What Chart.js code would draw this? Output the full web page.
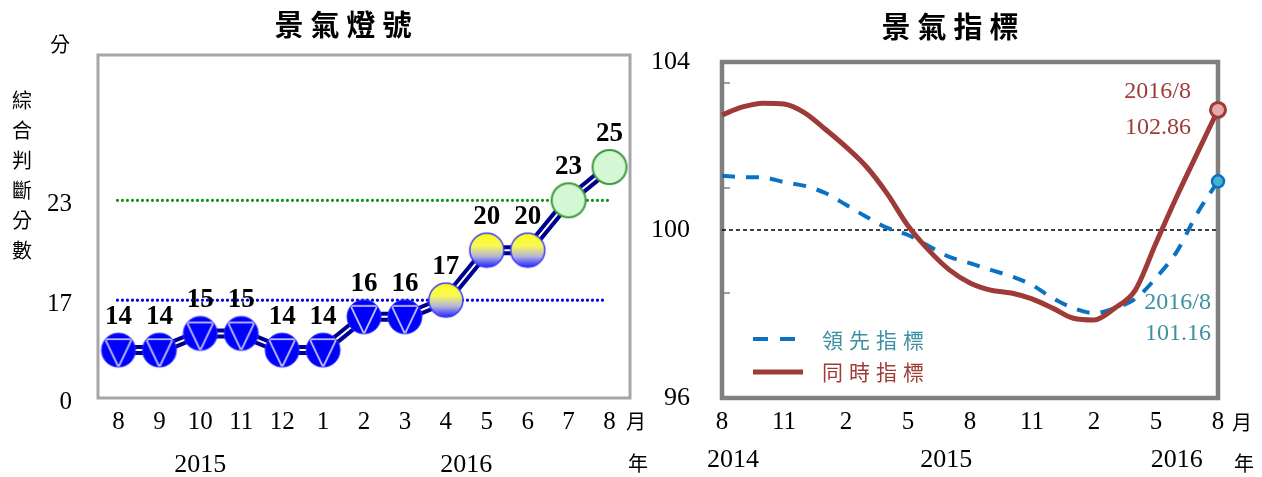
<!DOCTYPE html>
<html><head><meta charset="utf-8">
<script src="https://cdn.jsdelivr.net/npm/chart.js@4.4.0/dist/chart.umd.min.js"></script>
<style>
html,body{margin:0;padding:0;background:#fff;width:1262px;height:477px;overflow:hidden}
#c1{position:absolute;left:0;top:0}
#c2{position:absolute;left:640px;top:0}
</style></head><body>
<canvas id="c1" width="662" height="477"></canvas>
<canvas id="c2" width="622" height="477"></canvas>
<script>
// ---------- Left chart data: 景氣燈號 ----------
const signalMonths = ['8','9','10','11','12','1','2','3','4','5','6','7','8'];
const signalScores = [14,14,15,15,14,14,16,16,17,20,20,23,25];
const signalYears = ['2015','2016'];
const scoreTickValues = [11.12, 17, 23];
const scoreTickLabels = ['0','17','23'];
const scoreAxisMin = 11.12, scoreAxisMax = 31.73;
const blueThreshold = 17, greenThreshold = 23;

// ---------- Right chart data: 景氣指標 ----------
const indexMonths = ['2014/8','2014/9','2014/10','2014/11','2014/12',
  '2015/1','2015/2','2015/3','2015/4','2015/5','2015/6','2015/7','2015/8','2015/9','2015/10','2015/11','2015/12',
  '2016/1','2016/2','2016/3','2016/4','2016/5','2016/6','2016/7','2016/8'];
const leadingIndex = [101.29,101.26,101.25,101.14,101.05,100.88,100.60,100.31,100.05,99.88,99.62,99.36,99.21,
  99.05,98.90,98.69,98.38,98.14,98.02,98.14,98.36,98.86,99.48,100.40,101.16];
const coincidentIndex = [102.74,102.93,103.02,103.00,102.79,102.40,101.98,101.50,100.86,100.10,99.52,99.05,98.74,
  98.57,98.50,98.36,98.14,97.90,97.86,98.14,98.57,99.69,100.79,101.83,102.86];
const indexYears = ['2014','2015','2016'];
const indexTickValues = [96,100,104];
const indexMinorTicks = [98.5,101,103.5];
const indexBaseline = 100;
const seriesNames = ['領先指標','同時指標'];

const CJK = '"Noto Sans CJK TC","Noto Sans CJK SC",sans-serif';
const SERIF = '"Liberation Serif","DejaVu Serif",serif';

function spacedText(ctx, str, x, y, spacing, align){
  const chars = [...str];
  const ws = chars.map(ch=>ctx.measureText(ch).width);
  const total = ws.reduce((a,b)=>a+b,0) + spacing*(chars.length-1);
  let xx = align==='left' ? x : x - total/2;
  ctx.textAlign='left';
  chars.forEach((ch,i)=>{ctx.fillText(ch, xx, y); xx += ws[i]+spacing;});
}

// ---------- marker images ----------
function makeMarker(kind){
  const r=17, s=40, c=document.createElement('canvas'); c.width=s; c.height=s;
  const g=c.getContext('2d'); const cx=s/2, cy=s/2;
  g.beginPath(); g.arc(cx,cy,r,0,2*Math.PI);
  if(kind==='blue'){
    g.fillStyle='#0000FF'; g.fill();
    g.strokeStyle='#3030FF'; g.lineWidth=1; g.stroke();
    g.save(); g.beginPath(); g.arc(cx,cy,r-0.5,0,2*Math.PI); g.clip();
    const ty=cy-0.64*r, hw=0.78*r;
    g.beginPath(); g.moveTo(cx-hw,ty); g.lineTo(cx+hw,ty); g.lineTo(cx,cy+r); g.closePath();
    g.strokeStyle='#C4C4F2'; g.lineWidth=1.8; g.stroke(); g.restore();
  } else if(kind==='yb'){
    const gr=g.createLinearGradient(0,cy-r,0,cy+r);
    gr.addColorStop(0,'#FFFF10'); gr.addColorStop(0.38,'#F8F85A'); gr.addColorStop(0.68,'#B4B4DC'); gr.addColorStop(1,'#2424FF');
    g.fillStyle=gr; g.fill(); g.strokeStyle='#3A3AFF'; g.lineWidth=1.5; g.stroke();
  } else {
    g.fillStyle='#D4F7D4'; g.fill(); g.strokeStyle='#3C9A3C'; g.lineWidth=2; g.stroke();
  }
  return c;
}
const markers = {blue:makeMarker('blue'), yb:makeMarker('yb'), green:makeMarker('green')};
function signalKind(v){ return v>=greenThreshold ? 'green' : (v>=blueThreshold ? 'yb' : 'blue'); }

function drawDotted(ctx,x0,x1,y,color){
  ctx.save(); ctx.beginPath(); ctx.setLineDash([0,5]); ctx.lineCap='round';
  ctx.lineWidth=3.2; ctx.strokeStyle=color; ctx.moveTo(x0,y); ctx.lineTo(x1,y); ctx.stroke(); ctx.restore();
}

const leftDecor = {
  id:'leftDecor',
  beforeDatasetsDraw(chart){
    const {ctx, chartArea:a, scales:{x,y}} = chart;
    ctx.save();
    ctx.strokeStyle='#A6A6A6'; ctx.lineWidth=3;
    ctx.strokeRect(a.left, a.top, a.right-a.left, a.bottom-a.top);
    const x0=x.getPixelForValue(0)-1, x1=x.getPixelForValue(signalMonths.length-1);
    drawDotted(ctx,x0,x1,y.getPixelForValue(greenThreshold),'#109010');
    drawDotted(ctx,x0,x1-3,y.getPixelForValue(blueThreshold),'#0000E6');
    ctx.restore();
  },
  afterDatasetsDraw(chart){
    const {ctx} = chart; const meta = chart.getDatasetMeta(0);
    ctx.save(); ctx.fillStyle='#000'; ctx.font='bold 27px '+SERIF; ctx.textAlign='center'; ctx.textBaseline='middle';
    meta.data.forEach((el,i)=>{ ctx.fillText(String(signalScores[i]), el.x, el.y-33); });
    ctx.restore();
  },
  afterDraw(chart){
    const {ctx, scales:{x}} = chart;
    ctx.save(); ctx.fillStyle='#000'; ctx.textBaseline='middle';
    ctx.font='bold 29px '+CJK; spacedText(ctx,'景氣燈號',343,25,7);
    ctx.font='20px '+CJK;
    ctx.textAlign='center'; ctx.fillText('分',60,44);
    [...'綜合判斷分數'].forEach((ch,i)=>{ ctx.textAlign='center'; ctx.fillText(ch,22,100+i*30); });
    ctx.textAlign='center'; ctx.fillText('月',636,421); ctx.fillText('年',638,463);
    ctx.font='26px '+SERIF; ctx.textAlign='center';
    ctx.fillText(signalYears[0], x.getPixelForValue(2), 465);
    ctx.fillText(signalYears[1], (x.getPixelForValue(8)+x.getPixelForValue(9))/2, 465);
    ctx.restore();
  }
};

new Chart(document.getElementById('c1'), {
  type:'line',
  data:{labels:signalMonths, datasets:[
    {data:signalScores, showLine:false, pointStyle:(c)=>markers[signalKind(c.raw)], pointRadius:17, pointHoverRadius:17, clip:false, order:0},
    {data:signalScores, borderColor:'#FFFFFF', borderWidth:2, pointRadius:0, tension:0, order:1, borderJoinStyle:'round'},
    {data:signalScores, borderColor:'#000090', borderWidth:10, pointRadius:0, tension:0, order:2, borderJoinStyle:'round'}
  ]},
  options:{
    responsive:false, animation:false, devicePixelRatio:1,
    layout:{padding:{left:0,right:32,top:55,bottom:0}},
    plugins:{legend:{display:false}, tooltip:{enabled:false}, title:{display:false}},
    scales:{
      x:{offset:true, grid:{display:false,drawTicks:false}, border:{display:false},
         ticks:{font:{family:SERIF,size:25}, color:'#000', padding:9, maxRotation:0, autoSkip:false},
         afterFit:(s)=>{s.height=79;}},
      y:{min:scoreAxisMin, max:scoreAxisMax, grid:{display:false,drawTicks:false}, border:{display:false},
         afterBuildTicks:(s)=>{s.ticks=scoreTickValues.map(v=>({value:v}));},
         ticks:{font:{family:SERIF,size:25}, color:'#000', padding:26, labelOffset:4,
                callback:(v,i)=>scoreTickLabels[i]},
         afterFit:(s)=>{s.width=98;}}
    }
  },
  plugins:[leftDecor]
});

// ---------- Right chart ----------
const RED='#9E3B38', BLUE='#0A72C4', TEAL='#3E8FA2';
const rightDecor = {
  id:'rightDecor',
  beforeDatasetsDraw(chart){
    const {ctx, chartArea:a, scales:{y}} = chart;
    ctx.save();
    ctx.strokeStyle='#7F7F7F'; ctx.lineWidth=4.5;
    ctx.strokeRect(a.left, a.top, a.right-a.left, a.bottom-a.top);
    ctx.lineWidth=1.5;
    indexMinorTicks.forEach(v=>{ const yy=y.getPixelForValue(v); ctx.beginPath(); ctx.moveTo(a.left,yy); ctx.lineTo(a.left+8,yy); ctx.stroke(); });
    const yb=y.getPixelForValue(indexBaseline);
    ctx.beginPath(); ctx.setLineDash([4,3]); ctx.lineWidth=1.5; ctx.strokeStyle='#000';
    ctx.moveTo(a.left,yb); ctx.lineTo(a.right,yb); ctx.stroke();
    ctx.restore();
  },
  afterDraw(chart){
    const {ctx, chartArea:a, scales:{x}} = chart;
    ctx.save(); ctx.fillStyle='#000'; ctx.textBaseline='middle';
    ctx.font='bold 29px '+CJK; spacedText(ctx,'景氣指標',310,27,7);
    ctx.font='20px '+CJK; ctx.textAlign='center';
    ctx.fillText('月',602,422); ctx.fillText('年',604,463);
    ctx.font='26px '+SERIF; ctx.textAlign='center';
    ctx.fillText(indexYears[0], x.getPixelForValue(0)+11, 460);
    ctx.fillText(indexYears[1], x.getPixelForValue(11)-3, 460);
    ctx.fillText(indexYears[2], x.getPixelForValue(22), 460);
    // legend
    const lx=a.left+31;
    ctx.lineWidth=4; ctx.strokeStyle=BLUE; ctx.setLineDash([15,12]);
    ctx.beginPath(); ctx.moveTo(lx,339); ctx.lineTo(lx+44,339); ctx.stroke();
    ctx.setLineDash([]); ctx.lineWidth=5; ctx.strokeStyle=RED;
    ctx.beginPath(); ctx.moveTo(lx,372); ctx.lineTo(lx+50,372); ctx.stroke();
    ctx.font='21px '+CJK;
    ctx.fillStyle=TEAL; spacedText(ctx,seriesNames[0],a.left+100,340,6,'left');
    ctx.fillStyle=RED; spacedText(ctx,seriesNames[1],a.left+100,372,6,'left');
    // end annotations
    const last=indexMonths.length-1;
    const pr=chart.getDatasetMeta(0).data[last], pb=chart.getDatasetMeta(1).data[last];
    ctx.font='24px '+SERIF; ctx.textAlign='right';
    ctx.fillStyle=RED;
    ctx.fillText(indexMonths[last], pr.x-27, pr.y-18);
    ctx.fillText(coincidentIndex[last].toFixed(2), pr.x-27, pr.y+18);
    ctx.fillStyle=TEAL;
    ctx.fillText(indexMonths[last], pb.x-7, pb.y+121);
    ctx.fillText(leadingIndex[last].toFixed(2), pb.x-7, pb.y+152);
    ctx.restore();
  }
};
const lastIdx = indexMonths.length-1;
new Chart(document.getElementById('c2'), {
  type:'line',
  data:{labels:indexMonths, datasets:[
    {label:seriesNames[1], data:coincidentIndex, borderColor:RED, borderWidth:5, cubicInterpolationMode:'monotone', clip:false, order:0,
     pointRadius:(c)=>c.dataIndex===lastIdx?7.5:0, pointBackgroundColor:'#E6A8A8', pointBorderColor:RED, pointBorderWidth:3},
    {label:seriesNames[0], data:leadingIndex, borderColor:BLUE, borderWidth:4, borderDash:[13,11], cubicInterpolationMode:'monotone', clip:false, order:1,
     pointRadius:(c)=>c.dataIndex===lastIdx?6:0, pointBackgroundColor:'#45B2D2', pointBorderColor:BLUE, pointBorderWidth:2.5}
  ]},
  options:{
    responsive:false, animation:false, devicePixelRatio:1,
    layout:{padding:{left:0,right:44,top:62,bottom:0}},
    plugins:{legend:{display:false}, tooltip:{enabled:false}, title:{display:false}},
    scales:{
      x:{grid:{display:false,drawTicks:false}, border:{display:false},
         ticks:{font:{family:SERIF,size:25}, color:'#000', padding:9, maxRotation:0, autoSkip:false,
                callback:(v,i)=> i%3===0 ? indexMonths[i].split('/')[1] : ''},
         afterFit:(s)=>{s.height=79;}},
      y:{min:96, max:104, grid:{display:false,drawTicks:false}, border:{display:false},
         afterBuildTicks:(s)=>{s.ticks=indexTickValues.map(v=>({value:v}));},
         ticks:{font:{family:SERIF,size:26}, color:'#000', padding:32},
         afterFit:(s)=>{s.width=82;}}
    }
  },
  plugins:[rightDecor]
});
</script>
</body></html>
